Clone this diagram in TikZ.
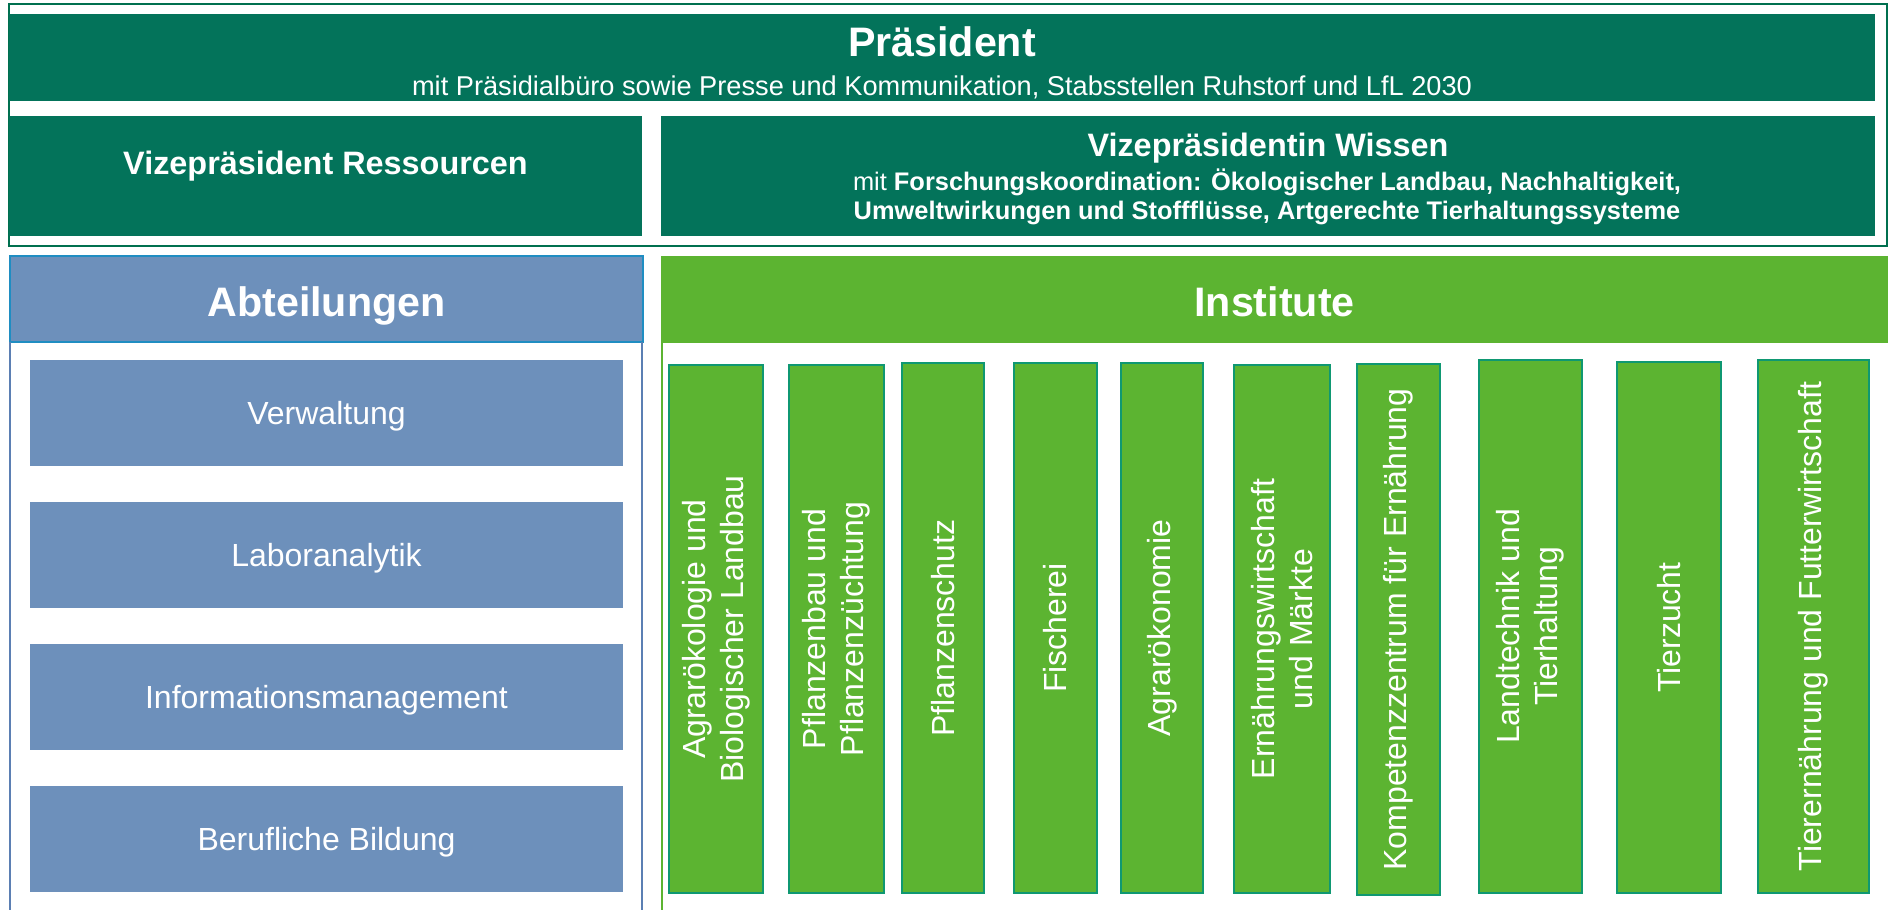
\documentclass[tikz,border=0pt]{standalone}
\usepackage{fontspec}
\setmainfont{Liberation Sans}
\usetikzlibrary{fit}
\definecolor{lfldark}{HTML}{03735A}
\definecolor{framegreen}{HTML}{00704F}
\definecolor{abtblue}{HTML}{6D90BB}
\definecolor{abtedge}{HTML}{1F8DC2}
\definecolor{abtline}{HTML}{5B7FB3}
\definecolor{instgreen}{HTML}{5CB431}
\definecolor{instedge}{HTML}{0F9872}
\begin{document}
\begin{tikzpicture}[x=0.5pt,y=-0.5pt,
  area/.style={inner sep=0pt, outer sep=0pt},
  leadbox/.style={area, fill=lfldark},
  abtbox/.style={area, fill=abtblue},
  instbox/.style={area, fill=instgreen, draw=instedge, line width=1.3pt},
  headtext/.style={anchor=base, text=white, font=\bfseries\fontsize{20.6}{24}\selectfont},
  vptext/.style={anchor=base, text=white, font=\bfseries\fontsize{16.2}{19}\selectfont},
  smalltext/.style={anchor=base, text=white, font=\fontsize{12.7}{15}\selectfont},
  unittext/.style={anchor=base, text=white, font=\fontsize{16}{19}\selectfont},
  insttext/.style={rotate=90, align=center, text=white, inner sep=0pt, font=\fontsize{16}{19}\selectfont},
]
\useasboundingbox (0,0) rectangle (1888,910);

% ---- leadership frame ----
\node[fit={(9,4) (1887,246)}, area, draw=framegreen, line width=1pt] (frame) {};
\node[fit={(9,14) (1875,101)}, leadbox] (praes) {};
\node[fit={(9,116) (642,236)}, leadbox] (vpr) {};
\node[fit={(661,116) (1875,236)}, leadbox] (vpw) {};

\node[headtext] (praes-t) at (942,56.5) {Präsident};
\node[anchor=base, text=white, font=\fontsize{13.6}{16}\selectfont] (praes-s) at (942,95)
  {mit Präsidialbüro sowie Presse und Kommunikation, Stabsstellen Ruhstorf und LfL 2030};

\node[vptext] (vpr-t) at (325.5,174) {Vizepräsident Ressourcen};

\node[vptext] (vpw-t) at (1268,156) {Vizepräsidentin Wissen};
\node[smalltext] (vpw-a) at (1267,190)
  {mit \textbf{Forschungskoordination: Ökologischer Landbau, Nachhaltigkeit,}};
\node[smalltext, font=\bfseries\fontsize{12.7}{15}\selectfont] (vpw-b) at (1267,219)
  {Umweltwirkungen und Stoffflüsse, Artgerechte Tierhaltungssysteme};

% ---- departments ----
\node[fit={(10,256) (643,342)}, abtbox, draw=abtedge, line width=1pt] (abt) {};
\node[headtext] (abt-t) at (326.5,316) {Abteilungen};
\draw[abtline, line width=1pt] (abt.south west) -- (abt.south west |- 0,910);
\draw[abtline, line width=1pt] ([xshift=-0.5pt]abt.south east) -- ([xshift=-0.5pt]abt.south east |- 0,910);

\foreach \name/\top/\txt in {verw/360/Verwaltung, labor/502/Laboranalytik,
    info/644/Informationsmanagement, bild/786/Berufliche Bildung}{
  \node[fit={(30,\top) (623,\top+106)}, abtbox] (\name) {};
  \node[unittext] (\name-t) at ([yshift=-5.75pt]\name.center) {\txt};
}

% ---- institutes ----
\node[fit={(661,256) (1888,342.7)}, area, fill=instgreen] (inst) {};
\node[headtext] (inst-t) at (1274.5,316) {Institute};
\draw[instgreen, line width=1pt] ([xshift=0.5pt]inst.south west) -- ([xshift=0.5pt]inst.south west |- 0,910);

\foreach \name/\xa/\xb/\ya/\yb/\txt in {
    ia/669/763/365/893/{Agrarökologie und\\Biologischer Landbau},
    ib/789/884/365/893/{Pflanzenbau und\\Pflanzenzüchtung},
    ic/902/984/363/893/{Pflanzenschutz},
    id/1014/1097/363/893/{Fischerei},
    ie/1121/1203/363/893/{Agrarökonomie},
    if/1234/1330/365/893/{Ernährungswirtschaft\\und Märkte},
    ig/1357/1440/364/895/{Kompetenzzentrum für Ernährung},
    ih/1479/1582/360/893/{Landtechnik und\\Tierhaltung},
    ii/1617/1721/362/893/{Tierzucht},
    ij/1758/1869/360/893/{Tierernährung und Futterwirtschaft}}{
  \node[fit={(\xa,\ya) (\xb,\yb)}, instbox] (\name) {};
  \node[insttext] (\name-t) at (\name.center) {\txt};
}
\end{tikzpicture}
\end{document}
